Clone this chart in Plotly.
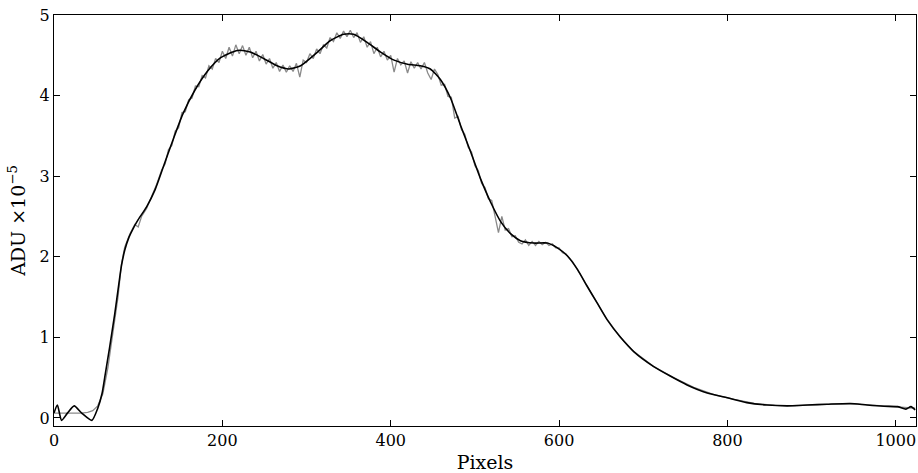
import numpy as np
import plotly.graph_objects as go

# Smooth model profile (pixel, ADU / 1e5)
model_px = [0, 4, 9, 16, 24, 33, 45, 52, 57, 61, 66, 72, 77, 80, 84, 89, 94, 100, 110,
            120, 130, 141, 153, 167, 183, 198, 218, 233, 249, 265, 279, 293, 313, 328,
            344, 356, 372, 388, 404, 420, 435, 447, 459, 471, 483, 495, 507, 519,
            531, 543, 554, 570, 586, 598, 610, 622, 633, 645, 657, 673, 689, 712,
            732, 752, 776, 800, 823, 847, 871, 895, 918, 946, 966, 986, 1002, 1012,
            1018, 1023]
model_adu = [0.06, 0.16, -0.03, 0.06, 0.15, 0.06, -0.03, 0.12, 0.30, 0.55, 0.87, 1.28,
             1.66, 1.88, 2.08, 2.24, 2.35, 2.46, 2.62, 2.83, 3.12, 3.44, 3.77, 4.06,
             4.31, 4.47, 4.56, 4.54, 4.46, 4.37, 4.33, 4.37, 4.54, 4.68, 4.76, 4.76,
             4.66, 4.54, 4.44, 4.39, 4.37, 4.33, 4.20, 3.97, 3.63, 3.30, 2.96, 2.67,
             2.43, 2.28, 2.20, 2.17, 2.17, 2.11, 2.01, 1.84, 1.64, 1.43, 1.22, 1.00,
             0.82, 0.64, 0.52, 0.41, 0.31, 0.25, 0.19, 0.16, 0.15, 0.16, 0.17, 0.18,
             0.16, 0.145, 0.14, 0.11, 0.14, 0.10]

# Measured (noisy) profile
data_px_low = [0, 8, 16, 24, 32, 40, 46, 52, 58, 64, 70, 76, 80, 84, 90, 96, 100,
               104, 110, 116, 122]
data_adu_low = [0.06, 0.06, 0.06, 0.06, 0.06, 0.07, 0.09, 0.15, 0.30, 0.62, 1.05,
                1.50, 1.90, 2.12, 2.28, 2.40, 2.37, 2.50, 2.60, 2.74, 2.90]

data_px_mid = list(range(128, 621, 4))
data_adu_mid = [3.08, 3.15, 3.33, 3.38, 3.56, 3.60, 3.79, 3.80, 3.95, 3.97, 4.12, 4.11,
                4.25, 4.22, 4.37, 4.33, 4.46, 4.41, 4.55, 4.46, 4.60, 4.49, 4.63, 4.52,
                4.62, 4.50, 4.60, 4.47, 4.55, 4.43, 4.51, 4.39, 4.46, 4.34, 4.41, 4.30,
                4.38, 4.29, 4.37, 4.30, 4.40, 4.23, 4.44, 4.41, 4.52, 4.46, 4.58, 4.52,
                4.63, 4.59, 4.72, 4.67, 4.78, 4.71, 4.80, 4.73, 4.81, 4.72, 4.78, 4.66,
                4.73, 4.60, 4.67, 4.52, 4.60, 4.48, 4.55, 4.44, 4.50, 4.29, 4.46, 4.38,
                4.43, 4.28, 4.42, 4.34, 4.41, 4.33, 4.41, 4.28, 4.20, 4.33, 4.26, 4.13,
                4.14, 3.99, 3.98, 3.72, 3.74, 3.58, 3.52, 3.36, 3.30, 3.13, 3.07, 2.91,
                2.86, 2.72, 2.70, 2.52, 2.30, 2.50, 2.33, 2.35, 2.25, 2.26, 2.18, 2.16,
                2.21, 2.14, 2.19, 2.14, 2.19, 2.15, 2.18, 2.14, 2.16, 2.11, 2.11, 2.05,
                2.04, 1.98, 1.94, 1.87]

data_px_high = [632, 644, 656, 672, 688, 712, 736, 760, 784, 808, 832, 856, 880, 904,
                928, 952, 976, 1000, 1012, 1023]
data_adu_high = [1.66, 1.45, 1.24, 1.01, 0.83, 0.64, 0.50, 0.38, 0.29, 0.23, 0.18,
                 0.155, 0.15, 0.165, 0.17, 0.175, 0.155, 0.14, 0.13, 0.12]

data_px = data_px_low + data_px_mid + data_px_high
data_adu = data_adu_low + data_adu_mid + data_adu_high

x_ticks = [0, 200, 400, 600, 800, 1000]
y_ticks = [0, 1, 2, 3, 4, 5]

FONT = "DejaVu Serif"

fig = go.Figure()
fig.add_trace(go.Scatter(x=data_px, y=data_adu, mode="lines",
                         line=dict(color="#8a8a8a", width=1.3), showlegend=False))
fig.add_trace(go.Scatter(x=model_px, y=model_adu, mode="lines",
                         line=dict(color="black", width=1.6, shape="spline",
                                   smoothing=0.6), showlegend=False))

axis_common = dict(showgrid=False, zeroline=False, showline=True, linecolor="black",
                   linewidth=1.2, mirror="ticks", ticks="inside", ticklen=6,
                   tickwidth=1, tickcolor="black",
                   tickfont=dict(family=FONT, size=16, color="black"))

fig.update_xaxes(range=[0, 1024], tickvals=x_ticks, ticktext=[str(v) for v in x_ticks],
                 title=dict(text="Pixels", font=dict(family=FONT, size=19, color="black"),
                            standoff=6),
                 **axis_common)
fig.update_yaxes(range=[-0.1, 5], tickvals=y_ticks, ticktext=[str(v) for v in y_ticks],
                 title=dict(text="ADU ×10<sup>−5</sup>",
                            font=dict(family=FONT, size=19, color="black"), standoff=8),
                 **axis_common)

fig.update_layout(width=918, height=473, margin=dict(l=54, r=2, t=15, b=47),
                  plot_bgcolor="white", paper_bgcolor="white")

fig.write_html("out.html")
